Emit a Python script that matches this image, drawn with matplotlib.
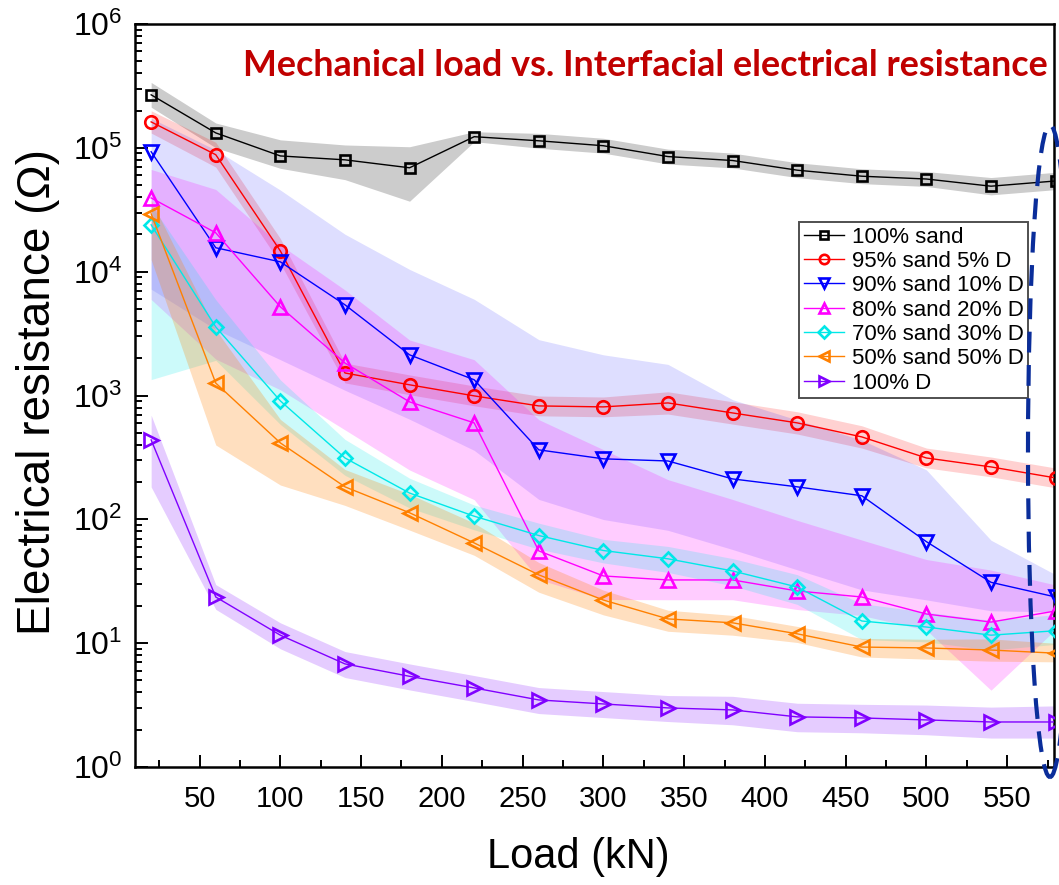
import numpy as np
import matplotlib
matplotlib.use("Agg")
import matplotlib.pyplot as plt
from matplotlib import font_manager
from matplotlib.patches import Ellipse
from matplotlib.ticker import MultipleLocator, LogLocator, NullFormatter

# Data
load = [20, 60, 100, 140, 180, 220, 260, 300, 340, 380, 420, 460, 500, 540, 580]

labels = ["100% sand", "95% sand 5% D", "90% sand 10% D", "80% sand 20% D",
          "70% sand 30% D", "50% sand 50% D", "100% D"]

r_sand100 = [2.68e5, 1.32e5, 8.6e4, 8.0e4, 6.9e4, 1.23e5, 1.14e5, 1.04e5, 8.5e4,
             7.9e4, 6.6e4, 5.9e4, 5.6e4, 4.9e4, 5.4e4]
r_d5 = [1.62e5, 8.8e4, 1.47e4, 1.52e3, 1.22e3, 993, 824, 809, 871, 723, 601, 463,
        313, 265, 216]
r_d10 = [9.3e4, 1.56e4, 1.2e4, 5.4e3, 2.13e3, 1.34e3, 364, 308, 296, 212, 183, 155,
         66, 31, 23.6]
r_d20 = [3.94e4, 2.06e4, 5.2e3, 1.83e3, 888, 601, 55.6, 34.9, 32.4, 32.4, 26.4, 23.6,
         17.2, 14.8, 18.2]
r_d30 = [2.39e4, 3.58e3, 904, 313, 163, 106, 74, 56, 48, 38.3, 28.4, 15.1, 13.5,
         11.6, 12.6]
r_d50 = [2.93e4, 1.26e3, 414, 183, 113, 64.5, 35.6, 22.3, 15.7, 14.6, 11.9, 9.3,
         9.15, 8.8, 8.3]
r_d100 = [438, 23.6, 11.6, 6.8, 5.4, 4.35, 3.48, 3.23, 3.0, 2.89, 2.54, 2.49, 2.4,
          2.31, 2.31]

# spread of the shaded bands, in decades above / below each point
up_sand100 = [0.10, 0.08, 0.13, 0.12, 0.17, 0.04, 0.06, 0.06, 0.06, 0.06, 0.06, 0.06, 0.06, 0.07, 0.07]
dn_sand100 = [0.10, 0.12, 0.10, 0.16, 0.27, 0.04, 0.06, 0.06, 0.06, 0.06, 0.06, 0.06, 0.06, 0.07, 0.07]
up_d5 = [0.09, 0.10, 0.10, 0.08, 0.08, 0.08, 0.08, 0.08, 0.09, 0.09, 0.09, 0.09, 0.08, 0.08, 0.08]
dn_d5 = [0.09, 0.10, 0.10, 0.08, 0.08, 0.08, 0.08, 0.08, 0.09, 0.09, 0.09, 0.09, 0.08, 0.08, 0.08]
up_d10 = [0.27, 0.79, 0.58, 0.57, 0.69, 0.65, 0.89, 0.84, 0.78, 0.64, 0.54, 0.45, 0.58, 0.34, 0.18]
dn_d10 = [1.11, 0.66, 0.79, 0.69, 0.52, 0.57, 0.40, 0.49, 0.56, 0.57, 0.67, 0.76, 0.47, 0.23, 0.12]
up_d20 = [0.23, 0.35, 0.50, 0.59, 0.50, 0.51, 1.06, 1.02, 0.81, 0.65, 0.57, 0.46, 0.44, 0.42, 0.21]
dn_d20 = [0.82, 1.02, 0.67, 0.54, 0.55, 0.62, 0.23, 0.19, 0.16, 0.16, 0.15, 0.15, 0.13, 0.55, 0.15]
up_d30 = [0.16, 0.22, 0.17, 0.15, 0.12, 0.09, 0.10, 0.09, 0.10, 0.10, 0.10, 0.14, 0.12, 0.12, 0.13]
dn_d30 = [1.25, 0.27, 0.19, 0.14, 0.12, 0.11, 0.11, 0.10, 0.11, 0.12, 0.14, 0.15, 0.12, 0.12, 0.11]
up_d50 = [0.11, 0.43, 0.19, 0.14, 0.15, 0.16, 0.10, 0.08, 0.07, 0.06, 0.06, 0.07, 0.07, 0.09, 0.08]
dn_d50 = [0.37, 0.50, 0.34, 0.15, 0.14, 0.10, 0.14, 0.12, 0.10, 0.10, 0.07, 0.08, 0.09, 0.09, 0.07]
up_d100 = [0.20, 0.10, 0.10, 0.10, 0.10, 0.10, 0.10, 0.10, 0.10, 0.11, 0.11, 0.11, 0.12, 0.12, 0.13]
dn_d100 = [0.38, 0.10, 0.11, 0.11, 0.11, 0.11, 0.11, 0.11, 0.11, 0.12, 0.12, 0.12, 0.12, 0.13, 0.13]

series = [r_sand100, r_d5, r_d10, r_d20, r_d30, r_d50, r_d100]
ups = [up_sand100, up_d5, up_d10, up_d20, up_d30, up_d50, up_d100]
dns = [dn_sand100, dn_d5, dn_d10, dn_d20, dn_d30, dn_d50, dn_d100]
colors = ["#000000", "#FF0000", "#0000FF", "#FF00FF", "#00E8E8", "#FF8000", "#8000FF"]
band_alpha = [0.2, 0.18, 0.13, 0.2, 0.2, 0.25, 0.2]
markers = ["s", "o", "v", "^", "D", "<", ">"]
msizes = [7, 9, 9.5, 9.5, 7.5, 9.5, 9.5]


def pick(families):
    for f in families:
        try:
            font_manager.findfont(font_manager.FontProperties(family=f),
                                  fallback_to_default=False)
            return f
        except Exception:
            pass
    return "DejaVu Sans"


sans = pick(["Liberation Sans", "Arial", "DejaVu Sans"])
bold_title = pick(["Lato", "Open Sans", sans])

plt.rcParams["font.family"] = [sans, "DejaVu Sans"]
plt.rcParams["mathtext.fontset"] = "custom"
plt.rcParams["mathtext.rm"] = sans
plt.rcParams["mathtext.default"] = "regular"

W, H = 1059, 885
fig = plt.figure(figsize=(W / 100, H / 100), dpi=100)
ax = fig.add_axes([135 / W, 1 - 767 / H, 919 / W, 743 / H])

x = np.array(load)
for y, up, dn, c, a in zip(series, ups, dns, colors, band_alpha):
    y = np.array(y)
    ax.fill_between(x, y / 10 ** np.array(dn), y * 10 ** np.array(up),
                    color=c, alpha=a, lw=0, zorder=1)

for y, c, m, ms, lab in zip(series, colors, markers, msizes, labels):
    ax.plot(x, y, color=c, lw=1.0, marker=m, ms=ms, mfc="none", mec=c,
            mew=1.9, label=lab, zorder=3)

ax.set_yscale("log")
ax.set_xlim(10, 579)
ax.set_ylim(1, 1e6)
ax.xaxis.set_major_locator(MultipleLocator(50))
ax.xaxis.set_minor_locator(MultipleLocator(25))
ax.yaxis.set_major_locator(LogLocator(base=10, numticks=10))
ax.yaxis.set_minor_locator(LogLocator(base=10, subs=np.arange(2, 10), numticks=20))
ax.yaxis.set_minor_formatter(NullFormatter())

for s in ax.spines.values():
    s.set_linewidth(1.8)
ax.tick_params(which="both", direction="in", top=False, right=False, width=1.4)
ax.tick_params(which="major", length=9)
ax.tick_params(which="minor", length=5)
ax.tick_params(axis="y", labelsize=23, pad=9)
ax.tick_params(axis="x", labelsize=21, pad=13)

fig.text(38 / W, 1 - 392 / H, "Electrical resistance (\u03a9)", rotation=90,
         ha="center", va="center", fontsize=33)
fig.text(578 / W, 1 - 857 / H, "Load (kN)", ha="center", va="center",
         fontsize=30)

title = fig.text(1048 / W, 1 - 65 / H,
                 "Mechanical load vs. Interfacial electrical resistance",
                 ha="right", va="center", color="#C00000", fontweight="bold",
                 family=bold_title, fontsize=22)
fig.canvas.draw()
tw = title.get_window_extent().width
title.set_fontsize(22 * 803 / tw)

leg = ax.legend(loc="lower right", bbox_to_anchor=(1028 / W, 1 - 398 / H),
                bbox_transform=fig.transFigure, borderaxespad=0, fontsize=16,
                frameon=True, fancybox=False, edgecolor="#222222",
                handlelength=1.8, handletextpad=0.35, labelspacing=0.15,
                borderpad=0.2, markerscale=0.75)
leg.get_frame().set_linewidth(1.4)
leg.set_zorder(5)

ell = Ellipse((1050 / W, 1 - 451 / H), 44 / W, 652 / H, transform=fig.transFigure,
              fill=False, edgecolor="#0A2D9A", lw=3, ls=(0, (5, 3)), clip_on=False,
              zorder=10)
fig.patches.append(ell)

fig.savefig("out.png", dpi=100)
